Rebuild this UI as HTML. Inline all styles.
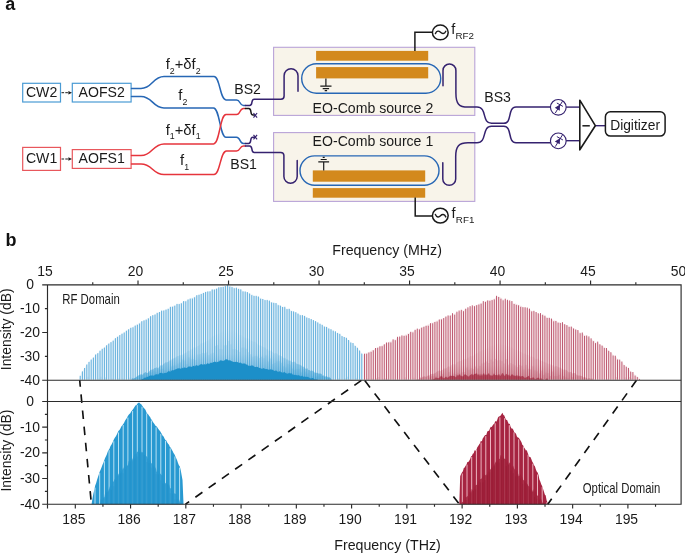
<!DOCTYPE html>
<html lang="en"><head><meta charset="utf-8"><title>Dual EO-comb figure</title>
<style>html,body{margin:0;padding:0;background:#fff}body{width:685px;height:553px;overflow:hidden}svg{display:block}</style>
</head><body>
<svg width="685" height="553" viewBox="0 0 685 553" font-family='"Liberation Sans", sans-serif' fill="#1a1a1a">
<rect width="685" height="553" fill="#fff"/>
<text x="5.3" y="9.6" font-size="18" font-weight="bold" fill="#111">a</text>
<text x="5.6" y="246.4" font-size="18" font-weight="bold" fill="#111">b</text>
<rect x="273.6" y="47.3" width="201.2" height="68.1" fill="#f8f4ea" stroke="#b9a4d8" stroke-width="1.1"/>
<rect x="273.6" y="132.6" width="201.2" height="68.8" fill="#f8f4ea" stroke="#b9a4d8" stroke-width="1.1"/>
<rect x="316.1" y="50.9" width="112.1" height="9.8" fill="#d3891d"/>
<rect x="316.1" y="67.1" width="112.1" height="11.3" fill="#d3891d"/>
<rect x="312.8" y="170.4" width="112.4" height="11.3" fill="#d3891d"/>
<rect x="312.8" y="188.1" width="112.4" height="9.6" fill="#d3891d"/>
<rect x="301.7" y="63.7" width="139" height="29.5" rx="14.75" fill="none" stroke="#2767b5" stroke-width="1.4"/>
<rect x="300" y="155.9" width="139" height="29.3" rx="14.65" fill="none" stroke="#2767b5" stroke-width="1.4"/>
<rect x="22.7" y="83.3" width="37.8" height="18.7" fill="#fff" stroke="#4a9bd4" stroke-width="1.2"/>
<rect x="72.3" y="83.3" width="58.8" height="18.7" fill="#fff" stroke="#4a9bd4" stroke-width="1.2"/>
<rect x="22.7" y="147.4" width="37.8" height="23" fill="#fff" stroke="#e8575c" stroke-width="1.2"/>
<rect x="72.3" y="149.6" width="58.8" height="18.8" fill="#fff" stroke="#e8575c" stroke-width="1.2"/>
<text x="41.6" y="96.5" font-size="14.1" text-anchor="middle">CW2</text>
<text x="101.7" y="96.5" font-size="14.1" text-anchor="middle">AOFS2</text>
<text x="41.6" y="162.9" font-size="14.1" text-anchor="middle">CW1</text>
<text x="101.7" y="162.9" font-size="14.1" text-anchor="middle">AOFS1</text>
<path d="M61.5 92.7H69" stroke="#1a1a1a" stroke-width="1" stroke-dasharray="2.6 1.2" fill="none"/>
<path d="M72 92.7l-3.6 -1.7v3.4z" fill="#1a1a1a"/>
<path d="M61.5 159H69" stroke="#1a1a1a" stroke-width="1" stroke-dasharray="2.6 1.2" fill="none"/>
<path d="M72 159l-3.6 -1.7v3.4z" fill="#1a1a1a"/>
<path d="M131.5 88.4H141 C152.5 88.4 152.5 76.5 164 76.5H214 C220.0 76.5 220.0 100 226 100H236.5 C240.7 100 239.3 105.5 243.5 105.5H245.4" fill="none" stroke="#2767b5" stroke-width="1.5" stroke-linecap="round" stroke-linejoin="round"/>
<path d="M131.5 96.4H141 C152.5 96.4 152.5 107.9 164 107.9H213.5 C219.8 107.9 219.8 137.3 226 137.3H236.5 C240.7 137.3 239.3 143.5 243.5 143.5H245.4" fill="none" stroke="#2767b5" stroke-width="1.5" stroke-linecap="round" stroke-linejoin="round"/>
<path d="M131.5 155.6H141 C152.5 155.6 152.5 144 164 144H213.5 C219.8 144 219.8 114.6 226 114.6H236.5 C240.7 114.6 239.3 108.4 243.5 108.4H245.4" fill="none" stroke="#e6343c" stroke-width="1.5" stroke-linecap="round" stroke-linejoin="round"/>
<path d="M131.5 164H141 C152.5 164 152.5 174.6 164 174.6H214 C220.2 174.6 220.2 151 226.5 151H236.5 C240.7 151 239.3 146 243.5 146H245.4" fill="none" stroke="#e6343c" stroke-width="1.5" stroke-linecap="round" stroke-linejoin="round"/>
<path d="M245.4 105.5H249.6 C253.5 105.5 250.3 99.2 254.2 99.2H281 Q284.1 99.2 284.1 96V75.75A6.95 6.95 0 0 1 298 75.75V91.2" fill="none" stroke="#35226f" stroke-width="1.5" stroke-linecap="round" stroke-linejoin="round"/>
<path d="M245.4 108.4H248.8 C252.4 108.4 249.4 115 253 115H254.6" fill="none" stroke="#1a1a1a" stroke-width="1.5" stroke-linecap="round" stroke-linejoin="round"/>
<path d="M245.4 143.5H248.6 C252.2 143.5 249.2 137.2 252.8 137.2H254.6" fill="none" stroke="#35226f" stroke-width="1.5" stroke-linecap="round" stroke-linejoin="round"/>
<path d="M245.4 146H249.6 C253.5 146 250.3 152.4 254.2 152.4H280.7 Q283.9 152.4 283.9 155.6V176.5A6.65 6.65 0 0 0 297.2 176.5V160.4" fill="none" stroke="#35226f" stroke-width="1.5" stroke-linecap="round" stroke-linejoin="round"/>
<path d="M253.5 113.0l3.6 4.6M253.5 117.6l3.6 -4.6" stroke="#35226f" stroke-width="1.15" fill="none"/>
<path d="M253.5 134.79999999999998l3.6 4.6M253.5 139.4l3.6 -4.6" stroke="#35226f" stroke-width="1.15" fill="none"/>
<path d="M443 85.8V70.45A6.45 6.45 0 0 1 455.9 70.45V93 C455.9 104 459 107.1 468 107.1H477 C487.6 107.1 481.4 123.3 491.5 123.3H503.8 C512.6 123.3 507.2 107.1 516 107.1H550.4" fill="none" stroke="#35226f" stroke-width="1.5" stroke-linecap="round" stroke-linejoin="round"/>
<path d="M442.8 162.8V178.9A6.45 6.45 0 0 0 455.7 178.9V156.5 C455.7 146 459 142.7 468 142.7H477 C487.6 142.7 481.4 126.3 491.5 126.3H503.8 C512.6 126.3 507.2 142.7 516 142.7H550.4" fill="none" stroke="#35226f" stroke-width="1.5" stroke-linecap="round" stroke-linejoin="round"/>
<path d="M325.9 78.4V86.1M320.3 86.1H331.5M322.7 88.6H329.1M324.7 90.7H327.1" stroke="#1a1a1a" stroke-width="1.2" fill="none"/>
<path d="M323.7 170.4V161.9M318.3 161.9H329.1M320.7 159.5H326.7M322.7 157.4H324.7" stroke="#1a1a1a" stroke-width="1.2" fill="none"/>
<path d="M414.9 51V32.2H432.3" stroke="#1a1a1a" stroke-width="1.5" fill="none" stroke-linejoin="miter"/>
<ellipse cx="440.3" cy="32.45" rx="7.9" ry="7.4" fill="#fff" stroke="#1a1a1a" stroke-width="1.5"/>
<path d="M435.4 33.6C436.8 30.4 438.9 30.6 440.5 32.3S444.4 34.3 445.8 31.2" stroke="#1a1a1a" stroke-width="1.4" fill="none" stroke-linecap="round"/>
<path d="M415.2 197.6V216H432.3" stroke="#1a1a1a" stroke-width="1.5" fill="none" stroke-linejoin="miter"/>
<ellipse cx="440.3" cy="215.6" rx="7.9" ry="7.4" fill="#fff" stroke="#1a1a1a" stroke-width="1.5"/>
<path d="M435.4 214.5C436.8 217.7 438.9 217.5 440.5 215.8S444.4 213.8 445.8 216.9" stroke="#1a1a1a" stroke-width="1.4" fill="none" stroke-linecap="round"/>
<text x="451.2" y="34" font-size="14.6">f<tspan font-size="9.8" dy="4.5" dx="0.2">RF2</tspan></text>
<text x="451.6" y="218.2" font-size="14.6">f<tspan font-size="9.8" dy="4.5" dx="0.2">RF1</tspan></text>
<text x="312.6" y="113" font-size="14.1">EO-Comb source 2</text>
<text x="312.6" y="146" font-size="14.1">EO-Comb source 1</text>
<text x="234.3" y="94.2" font-size="14.1">BS2</text>
<text x="230.3" y="168.5" font-size="14.1">BS1</text>
<text x="484.3" y="101.9" font-size="14.1">BS3</text>
<text x="165.7" y="69.2" font-size="14.8">f<tspan font-size="8.8" dy="4.7">2</tspan><tspan dy="-4.7">+δf</tspan><tspan font-size="8.8" dy="4.7">2</tspan></text>
<text x="178.3" y="99.8" font-size="14.8">f<tspan font-size="8.8" dy="4.7">2</tspan></text>
<text x="165.7" y="134.7" font-size="14.8">f<tspan font-size="8.8" dy="4.7">1</tspan><tspan dy="-4.7">+δf</tspan><tspan font-size="8.8" dy="4.7">1</tspan></text>
<text x="180" y="164.8" font-size="14.8">f<tspan font-size="8.8" dy="4.7">1</tspan></text>
<circle cx="558.3" cy="107.3" r="7.85" fill="#fff" stroke="#35226f" stroke-width="1.15"/>
<path d="M555.30 113.00L562.50 101.20M556.85 103.00L562.95 106.40" stroke="#35226f" stroke-width="1" fill="none"/>
<path d="M554.80 107.80L559.80 110.70L560.00 104.60Z" fill="#35226f"/>
<path d="M566.15 107.1H579.8" stroke="#35226f" stroke-width="1.4" fill="none"/>
<circle cx="558.3" cy="140.9" r="7.85" fill="#fff" stroke="#35226f" stroke-width="1.15"/>
<path d="M555.30 146.60L562.50 134.80M556.85 136.60L562.95 140.00" stroke="#35226f" stroke-width="1" fill="none"/>
<path d="M554.80 141.40L559.80 144.30L560.00 138.20Z" fill="#35226f"/>
<path d="M566.15 140.70000000000002H579.8" stroke="#35226f" stroke-width="1.4" fill="none"/>
<path d="M595.4 125.7H605.4" stroke="#35226f" stroke-width="1.4"/>
<path d="M579.8 100.2L595.3 125.7L579.8 149.8Z" fill="#fff" stroke="#1a1a1a" stroke-width="1.6" stroke-linejoin="round"/>
<path d="M582.4 125.8H589.8" stroke="#1a1a1a" stroke-width="1.5"/>
<rect x="605.4" y="111.7" width="59.7" height="24.4" rx="5" fill="#fff" stroke="#1a1a1a" stroke-width="1.5"/>
<text x="635.1" y="129.6" font-size="13.8" text-anchor="middle">Digitizer</text>
<defs><linearGradient id="gb" gradientUnits="userSpaceOnUse" x1="0" y1="328" x2="0" y2="380"><stop offset="0" stop-color="#2f98d2" stop-opacity="0"/><stop offset="0.5" stop-color="#2f98d2" stop-opacity="0.12"/><stop offset="1" stop-color="#2393cd" stop-opacity="0.6"/></linearGradient><linearGradient id="gr" gradientUnits="userSpaceOnUse" x1="0" y1="342" x2="0" y2="380"><stop offset="0" stop-color="#a8283f" stop-opacity="0"/><stop offset="0.6" stop-color="#a8283f" stop-opacity="0.09"/><stop offset="1" stop-color="#9c1f36" stop-opacity="0.3"/></linearGradient></defs>
<g>
<polygon points="79.5,379.7 79.5,378.2 80.6,374.2 81.7,372.1 82.8,370.2 83.9,369.0 85.0,367.3 86.1,365.5 87.2,364.2 88.3,362.4 89.4,361.4 90.5,360.0 91.6,358.8 92.7,357.8 93.8,356.9 94.9,355.5 96.0,354.6 97.1,353.8 98.2,353.0 99.3,351.8 100.4,350.7 101.5,350.1 102.6,348.5 103.7,348.0 104.8,346.7 105.9,345.7 107.0,344.8 108.1,344.0 109.2,343.4 110.3,342.2 111.4,341.5 112.5,340.7 113.6,339.6 114.7,338.8 115.8,337.7 116.9,336.8 118.0,336.2 119.1,335.7 120.2,334.8 121.3,334.0 122.4,333.5 123.5,332.7 124.6,331.8 125.7,331.4 126.8,330.6 127.9,329.6 129.0,329.1 130.1,328.3 131.2,327.8 132.3,327.1 133.4,326.2 134.5,326.0 135.6,324.9 136.7,324.4 137.8,324.0 138.9,323.0 140.0,322.6 141.1,321.7 142.2,321.4 143.3,320.8 144.4,320.1 145.5,319.6 146.6,318.7 147.7,318.3 148.8,317.7 149.9,317.2 151.0,316.5 152.1,316.2 153.2,315.7 154.3,314.9 155.4,314.5 156.5,313.6 157.6,313.4 158.7,312.8 159.8,312.5 160.9,311.8 162.0,311.0 163.1,310.5 164.2,310.2 165.3,309.3 166.4,309.1 167.5,308.4 168.6,307.9 169.7,307.4 170.8,307.3 171.9,306.5 173.0,306.0 174.1,305.6 175.2,305.4 176.3,304.5 177.4,304.2 178.5,303.8 179.6,303.5 180.7,303.0 181.8,302.5 182.9,301.7 184.0,301.3 185.1,300.8 186.2,300.6 187.3,300.2 188.4,299.2 189.5,298.8 190.6,298.3 191.7,297.8 192.8,297.5 193.9,297.1 195.0,296.4 196.1,295.8 197.2,295.5 198.3,295.0 199.4,294.7 200.5,294.4 201.6,293.8 202.7,293.4 203.8,293.1 204.9,292.7 206.0,292.0 207.1,292.1 208.2,291.7 209.3,291.4 210.4,291.0 211.5,290.3 212.6,290.0 213.7,289.4 214.8,289.4 215.9,288.7 217.0,288.4 218.1,288.1 219.2,287.8 220.3,287.5 221.4,287.0 222.5,286.7 223.6,286.4 224.7,286.1 225.8,285.9 226.9,285.5 228.0,285.7 229.1,285.7 230.2,285.8 231.3,286.2 232.4,286.7 233.5,287.1 234.6,287.4 235.7,288.3 236.8,288.8 237.9,288.9 239.0,289.4 240.1,289.6 241.2,290.0 242.3,290.6 243.4,291.0 244.5,291.7 245.6,291.8 246.7,292.1 247.8,293.1 248.9,293.3 250.0,293.5 251.1,294.2 252.2,294.3 253.3,295.1 254.4,295.8 255.5,296.2 256.6,296.5 257.7,296.7 258.8,297.2 259.9,297.5 261.0,298.3 262.1,298.6 263.2,299.2 264.3,299.4 265.4,299.7 266.5,300.5 267.6,301.0 268.7,301.3 269.8,301.7 270.9,302.1 272.0,302.4 273.1,302.5 274.2,303.1 275.3,303.4 276.4,303.6 277.5,304.0 278.6,304.5 279.7,305.0 280.8,305.8 281.9,306.4 283.0,306.6 284.1,307.4 285.2,308.0 286.3,308.4 287.4,308.6 288.5,309.0 289.6,309.5 290.7,310.0 291.8,310.5 292.9,311.2 294.0,311.9 295.1,312.4 296.2,312.6 297.3,313.2 298.4,313.8 299.5,313.9 300.6,314.7 301.7,315.4 302.8,315.8 303.9,316.3 305.0,316.6 306.1,316.9 307.2,317.8 308.3,318.0 309.4,318.9 310.5,319.5 311.6,319.7 312.7,320.3 313.8,321.2 314.9,321.6 316.0,321.8 317.1,322.3 318.2,322.9 319.3,323.9 320.4,324.4 321.5,324.5 322.6,325.5 323.7,326.1 324.8,326.4 325.9,326.8 327.0,327.5 328.1,327.8 329.2,328.4 330.3,329.6 331.4,330.0 332.5,330.5 333.6,331.4 334.7,331.7 335.8,332.5 336.9,333.1 338.0,333.4 339.1,334.0 340.2,334.6 341.3,335.2 342.4,336.0 343.5,336.4 344.6,337.1 345.7,337.6 346.8,338.9 347.9,339.4 349.0,340.4 350.1,341.3 351.2,342.4 352.3,343.0 353.4,344.2 354.5,344.8 355.6,345.8 356.7,347.1 357.8,348.1 358.9,349.6 360.0,350.8 361.1,352.0 362.2,353.8 363.3,354.7 363.4,379.7" fill="#cfe7f4" opacity="0.4"/>
<path d="M80.20 379.7V375.8M82.40 379.7V371.4M84.60 379.7V368.0M86.80 379.7V364.5M89.00 379.7V361.9M91.20 379.7V359.6M93.40 379.7V357.6M95.60 379.7V354.5M97.80 379.7V353.2M100.00 379.7V350.7M102.20 379.7V348.8M104.40 379.7V347.6M106.60 379.7V345.3M108.80 379.7V343.6M111.00 379.7V342.2M113.20 379.7V340.7M115.40 379.7V338.2M117.60 379.7V336.8M119.80 379.7V335.1M122.00 379.7V333.7M124.20 379.7V332.5M126.40 379.7V330.7M128.60 379.7V329.3M130.80 379.7V327.8M133.00 379.7V327.3M135.20 379.7V325.6M137.40 379.7V324.7M139.60 379.7V323.5M141.80 379.7V321.2M144.00 379.7V320.4M146.20 379.7V319.7M148.40 379.7V318.4M150.60 379.7V316.2M152.80 379.7V315.1M155.00 379.7V314.5M157.20 379.7V312.8M159.40 379.7V312.0M161.60 379.7V310.6M163.80 379.7V310.5M166.00 379.7V309.7M168.20 379.7V308.9M170.40 379.7V306.8M172.60 379.7V306.7M174.80 379.7V305.7M177.00 379.7V303.9M179.20 379.7V304.1M181.40 379.7V303.3M183.60 379.7V301.1M185.80 379.7V301.3M188.00 379.7V299.5M190.20 379.7V298.6M192.40 379.7V298.5M194.60 379.7V297.3M196.80 379.7V295.2M199.00 379.7V294.7M201.20 379.7V293.9M203.40 379.7V292.9M205.60 379.7V291.9M207.80 379.7V291.4M210.00 379.7V291.3M212.20 379.7V289.4M214.40 379.7V289.5M216.60 379.7V288.7M218.80 379.7V287.3M221.00 379.7V287.1M223.20 379.7V286.9M225.40 379.7V286.1M227.60 379.7V284.9M229.80 379.7V286.6M232.00 379.7V287.1M234.20 379.7V288.2M236.40 379.7V287.7M238.60 379.7V288.8M240.80 379.7V289.3M243.00 379.7V291.4M245.20 379.7V291.5M247.40 379.7V292.1M249.60 379.7V293.5M251.80 379.7V295.1M254.00 379.7V295.9M256.20 379.7V295.8M258.40 379.7V296.5M260.60 379.7V298.7M262.80 379.7V299.0M265.00 379.7V300.1M267.20 379.7V299.9M269.40 379.7V300.6M271.60 379.7V302.4M273.80 379.7V302.8M276.00 379.7V303.0M278.20 379.7V305.2M280.40 379.7V305.7M282.60 379.7V307.0M284.80 379.7V306.8M287.00 379.7V309.1M289.20 379.7V308.8M291.40 379.7V311.1M293.60 379.7V311.4M295.80 379.7V312.2M298.00 379.7V313.6M300.20 379.7V315.2M302.40 379.7V315.1M304.60 379.7V315.9M306.80 379.7V317.5M309.00 379.7V318.1M311.20 379.7V319.0M313.40 379.7V320.1M315.60 379.7V321.1M317.80 379.7V322.4M320.00 379.7V323.7M322.20 379.7V324.8M324.40 379.7V326.6M326.60 379.7V326.9M328.80 379.7V328.5M331.00 379.7V329.2M333.20 379.7V330.6M335.40 379.7V331.3M337.60 379.7V332.9M339.80 379.7V333.8M342.00 379.7V336.1M344.20 379.7V337.0M346.40 379.7V337.8M348.60 379.7V340.0M350.80 379.7V342.5M353.00 379.7V343.0M355.20 379.7V345.9M357.40 379.7V347.8M359.60 379.7V350.5M361.80 379.7V353.6" stroke="#51a7d8" stroke-width="0.9" fill="none" opacity="1.0"/>
<polygon points="128.0,379.7 128.0,379.7 129.1,379.7 130.2,379.7 131.3,379.7 132.4,378.3 133.5,378.8 134.6,378.1 135.7,377.5 136.8,376.6 137.9,376.1 139.0,375.0 140.1,374.7 141.2,374.1 142.3,374.9 143.4,373.5 144.5,372.8 145.6,372.1 146.7,373.1 147.8,372.7 148.9,371.7 150.0,370.4 151.1,369.8 152.2,369.4 153.3,369.2 154.4,368.1 155.5,368.1 156.6,367.2 157.7,368.1 158.8,367.5 159.9,366.1 161.0,365.0 162.1,365.8 163.2,364.0 164.3,363.5 165.4,362.2 166.5,362.4 167.6,362.0 168.7,361.5 169.8,360.3 170.9,360.4 172.0,358.8 173.1,358.7 174.2,357.8 175.3,357.8 176.4,356.5 177.5,355.9 178.6,355.9 179.7,355.1 180.8,355.2 181.9,354.5 183.0,354.4 184.1,353.6 185.2,353.1 186.3,352.8 187.4,351.2 188.5,350.5 189.6,351.2 190.7,348.9 191.8,349.4 192.9,348.7 194.0,346.8 195.1,347.8 196.2,347.3 197.3,346.1 198.4,345.7 199.5,345.3 200.6,343.3 201.7,343.4 202.8,342.8 203.9,342.8 205.0,342.1 206.1,341.5 207.2,340.4 208.3,340.4 209.4,339.3 210.5,338.7 211.6,337.1 212.7,336.1 213.8,335.7 214.9,335.5 216.0,334.3 217.1,335.1 218.2,333.9 219.3,333.4 220.4,332.8 221.5,332.2 222.6,331.2 223.7,329.6 224.8,330.5 225.9,329.8 227.0,328.6 228.1,328.1 229.2,329.0 230.3,328.4 231.4,330.4 232.5,330.0 233.6,330.2 234.7,331.2 235.8,332.8 236.9,332.3 238.0,334.0 239.1,335.0 240.2,334.7 241.3,335.1 242.4,335.8 243.5,336.9 244.6,337.6 245.7,337.9 246.8,338.6 247.9,338.0 249.0,338.7 250.1,339.5 251.2,341.1 252.3,340.8 253.4,341.9 254.5,341.4 255.6,342.1 256.7,343.1 257.8,344.5 258.9,345.1 260.0,345.6 261.1,345.4 262.2,346.5 263.3,346.9 264.4,347.5 265.5,347.4 266.6,349.5 267.7,348.7 268.8,350.8 269.9,351.3 271.0,350.0 272.1,351.5 273.2,352.8 274.3,353.6 275.4,353.1 276.5,353.3 277.6,353.8 278.7,355.8 279.8,354.9 280.9,356.2 282.0,355.9 283.1,357.2 284.2,358.6 285.3,357.5 286.4,359.4 287.5,359.3 288.6,360.6 289.7,360.8 290.8,360.4 291.9,362.2 293.0,361.9 294.1,361.5 295.2,362.0 296.3,363.5 297.4,364.0 298.5,364.2 299.6,364.4 300.7,365.3 301.8,365.8 302.9,367.3 304.0,366.2 305.1,368.2 306.2,368.9 307.3,367.9 308.4,370.0 309.5,370.1 310.6,371.0 311.7,370.2 312.8,370.9 313.9,371.4 315.0,373.1 316.1,372.7 317.2,372.8 318.3,373.4 319.4,373.5 320.5,373.5 321.6,374.1 322.7,376.0 323.8,375.3 324.9,377.1 326.0,376.1 327.1,376.6 328.2,377.5 329.3,377.3 330.4,378.0 331.5,379.6 332.6,379.7 333.7,379.7 334.8,379.7 335.9,379.7 336.0,379.7" fill="url(#gb)" opacity="1.0"/>
<path d="M87.90 379.7V376.8M98.90 379.7V378.5M101.10 379.7V376.8M105.50 379.7V377.4M112.10 379.7V378.6M118.70 379.7V378.3M123.10 379.7V378.6M129.70 379.7V377.7M131.90 379.7V377.6M134.10 379.7V378.0M140.70 379.7V376.4M147.30 379.7V375.8M149.50 379.7V372.8M151.70 379.7V372.4M153.90 379.7V370.9M156.10 379.7V371.9M158.30 379.7V369.3M160.50 379.7V369.5M162.70 379.7V368.8M164.90 379.7V370.2M167.10 379.7V371.5M169.30 379.7V369.7M171.50 379.7V366.5M173.70 379.7V365.7M175.90 379.7V365.6M178.10 379.7V363.7M180.30 379.7V362.5M182.50 379.7V359.7M184.70 379.7V360.4M186.90 379.7V364.3M189.10 379.7V357.5M191.30 379.7V359.3M193.50 379.7V359.3M195.70 379.7V360.0M197.90 379.7V354.6M200.10 379.7V354.1M202.30 379.7V353.0M204.50 379.7V353.2M206.70 379.7V352.6M208.90 379.7V355.2M211.10 379.7V353.6M213.30 379.7V352.8M215.50 379.7V345.9M217.70 379.7V345.1M219.90 379.7V348.9M222.10 379.7V349.3M224.30 379.7V345.4M226.50 379.7V345.2M228.70 379.7V340.8M230.90 379.7V344.4M233.10 379.7V349.0M235.30 379.7V349.2M237.50 379.7V350.2M239.70 379.7V351.9M241.90 379.7V347.7M244.10 379.7V347.6M246.30 379.7V348.8M248.50 379.7V352.2M250.70 379.7V354.2M252.90 379.7V356.8M255.10 379.7V356.1M257.30 379.7V356.4M259.50 379.7V358.1M261.70 379.7V356.8M263.90 379.7V358.3M266.10 379.7V355.5M268.30 379.7V361.6M270.50 379.7V358.5M272.70 379.7V364.2M274.90 379.7V363.1M277.10 379.7V361.5M279.30 379.7V361.1M281.50 379.7V362.8M283.70 379.7V366.3M285.90 379.7V367.5M288.10 379.7V364.2M290.30 379.7V364.7M292.50 379.7V368.6M294.70 379.7V369.8M296.90 379.7V369.3M299.10 379.7V368.9M301.30 379.7V372.3M303.50 379.7V368.9M305.70 379.7V371.7M307.90 379.7V373.6M310.10 379.7V377.8M312.30 379.7V376.3M314.50 379.7V378.7M316.70 379.7V376.6M318.90 379.7V375.6M321.10 379.7V376.3M327.70 379.7V378.6M329.90 379.7V376.7M338.70 379.7V378.3M345.30 379.7V378.1M347.50 379.7V376.7M349.70 379.7V378.9M356.30 379.7V377.9" stroke="#2f98d0" stroke-width="0.8" fill="none" opacity="0.2"/>
<polygon points="140.0,379.7 140.0,379.6 141.0,379.7 142.0,378.9 143.0,379.1 144.0,377.9 145.0,377.4 146.0,377.7 147.0,376.7 148.0,377.1 149.0,376.3 150.0,375.6 151.0,375.4 152.0,375.4 153.0,375.6 154.0,375.7 155.0,374.4 156.0,374.5 157.0,374.0 158.0,374.8 159.0,373.4 160.0,373.0 161.0,372.8 162.0,373.1 163.0,373.5 164.0,373.3 165.0,372.8 166.0,372.9 167.0,372.6 168.0,371.4 169.0,371.0 170.0,371.8 171.0,371.2 172.0,369.9 173.0,370.6 174.0,369.9 175.0,369.6 176.0,369.3 177.0,368.8 178.0,368.3 179.0,368.4 180.0,368.3 181.0,369.0 182.0,367.6 183.0,368.6 184.0,367.4 185.0,367.4 186.0,367.9 187.0,367.7 188.0,367.0 189.0,366.3 190.0,366.7 191.0,366.4 192.0,367.0 193.0,365.8 194.0,365.9 195.0,366.4 196.0,365.0 197.0,365.4 198.0,365.8 199.0,365.5 200.0,364.4 201.0,364.2 202.0,364.0 203.0,365.1 204.0,364.0 205.0,364.5 206.0,364.5 207.0,363.5 208.0,363.2 209.0,363.9 210.0,363.3 211.0,362.6 212.0,363.0 213.0,362.2 214.0,361.9 215.0,361.4 216.0,362.2 217.0,362.2 218.0,361.6 219.0,361.8 220.0,360.3 221.0,360.4 222.0,360.5 223.0,361.0 224.0,360.7 225.0,359.7 226.0,359.3 227.0,359.5 228.0,359.8 229.0,360.7 230.0,360.0 231.0,361.1 232.0,361.3 233.0,361.7 234.0,361.9 235.0,361.9 236.0,361.8 237.0,362.0 238.0,362.3 239.0,363.1 240.0,362.4 241.0,362.8 242.0,363.8 243.0,363.4 244.0,363.4 245.0,363.6 246.0,364.5 247.0,364.5 248.0,365.6 249.0,365.8 250.0,366.1 251.0,365.4 252.0,365.4 253.0,365.6 254.0,366.5 255.0,367.0 256.0,366.9 257.0,366.8 258.0,367.3 259.0,367.8 260.0,368.1 261.0,368.4 262.0,368.7 263.0,368.6 264.0,368.1 265.0,369.3 266.0,368.7 267.0,369.3 268.0,369.2 269.0,369.9 270.0,369.3 271.0,369.6 272.0,369.8 273.0,369.8 274.0,371.0 275.0,370.8 276.0,370.6 277.0,370.9 278.0,372.0 279.0,371.5 280.0,371.3 281.0,372.3 282.0,372.2 283.0,372.9 284.0,371.8 285.0,372.6 286.0,373.3 287.0,373.5 288.0,373.8 289.0,372.8 290.0,373.4 291.0,373.3 292.0,373.6 293.0,374.9 294.0,374.6 295.0,375.3 296.0,374.7 297.0,375.6 298.0,375.3 299.0,375.2 300.0,376.1 301.0,376.6 302.0,375.6 303.0,376.5 304.0,376.8 305.0,376.4 306.0,376.9 307.0,376.8 308.0,377.1 309.0,377.4 310.0,378.2 311.0,378.5 312.0,378.1 313.0,378.1 314.0,378.8 315.0,379.5 316.0,379.1 317.0,379.5 318.0,379.6 318.0,379.7" fill="#1c8fc9" opacity="1.0"/>
<polygon points="363.4,379.7 363.4,354.9 364.5,354.2 365.6,353.3 366.7,352.8 367.8,352.4 368.9,352.0 370.0,351.5 371.1,350.6 372.2,350.1 373.3,349.9 374.4,349.1 375.5,348.5 376.6,348.0 377.7,347.8 378.8,346.9 379.9,346.5 381.0,345.8 382.1,345.3 383.2,345.0 384.3,344.5 385.4,343.6 386.5,343.0 387.6,342.7 388.7,341.9 389.8,341.2 390.9,341.3 392.0,340.5 393.1,340.3 394.2,339.5 395.3,339.3 396.4,338.6 397.5,337.9 398.6,337.4 399.7,337.2 400.8,336.8 401.9,336.4 403.0,335.5 404.1,335.3 405.2,334.6 406.3,334.2 407.4,333.5 408.5,333.1 409.6,332.8 410.7,332.5 411.8,331.5 412.9,331.3 414.0,331.0 415.1,330.6 416.2,329.6 417.3,329.1 418.4,329.1 419.5,328.6 420.6,327.8 421.7,327.0 422.8,327.1 423.9,326.2 425.0,326.0 426.1,325.4 427.2,325.0 428.3,324.1 429.4,324.0 430.5,323.1 431.6,322.8 432.7,322.5 433.8,322.0 434.9,321.2 436.0,320.8 437.1,320.5 438.2,320.1 439.3,319.6 440.4,319.0 441.5,318.6 442.6,318.5 443.7,318.1 444.8,317.2 445.9,317.1 447.0,316.7 448.1,315.9 449.2,315.9 450.3,315.1 451.4,314.9 452.5,314.4 453.6,314.0 454.7,313.4 455.8,313.0 456.9,312.7 458.0,312.2 459.1,311.9 460.2,311.3 461.3,310.9 462.4,310.2 463.5,310.1 464.6,309.6 465.7,309.0 466.8,308.9 467.9,308.5 469.0,307.8 470.1,307.2 471.2,307.0 472.3,306.3 473.4,305.9 474.5,305.6 475.6,305.0 476.7,304.8 477.8,304.4 478.9,303.6 480.0,303.6 481.1,302.8 482.2,302.8 483.3,302.5 484.4,301.9 485.5,301.3 486.6,301.1 487.7,300.7 488.8,300.6 489.9,299.7 491.0,299.8 492.1,299.5 493.2,298.9 494.3,298.5 495.4,297.5 496.5,297.3 497.6,296.3 498.7,296.3 499.8,297.0 500.9,297.3 502.0,298.5 503.1,299.3 504.2,299.2 505.3,299.8 506.4,300.4 507.5,300.4 508.6,301.3 509.7,301.3 510.8,302.0 511.9,302.0 513.0,302.7 514.1,303.3 515.2,303.3 516.3,303.8 517.4,304.4 518.5,304.8 519.6,305.1 520.7,305.7 521.8,306.1 522.9,307.1 524.0,307.4 525.1,308.0 526.2,308.1 527.3,308.9 528.4,309.0 529.5,309.7 530.6,310.2 531.7,310.5 532.8,311.3 533.9,311.6 535.0,312.1 536.1,312.8 537.2,312.8 538.3,313.8 539.4,314.0 540.5,314.4 541.6,315.1 542.7,315.2 543.8,316.1 544.9,316.4 546.0,316.7 547.1,317.4 548.2,317.7 549.3,318.0 550.4,318.8 551.5,318.8 552.6,319.7 553.7,319.8 554.8,320.5 555.9,321.2 557.0,321.4 558.1,321.9 559.2,322.1 560.3,322.3 561.4,322.8 562.5,323.3 563.6,324.0 564.7,324.4 565.8,324.9 566.9,325.5 568.0,325.5 569.1,326.0 570.2,326.7 571.3,326.8 572.4,327.2 573.5,327.9 574.6,328.4 575.7,329.3 576.8,329.9 577.9,330.8 579.0,331.5 580.1,332.0 581.2,333.0 582.3,333.6 583.4,334.1 584.5,335.3 585.6,335.6 586.7,336.2 587.8,336.9 588.9,337.9 590.0,338.7 591.1,339.3 592.2,339.7 593.3,340.3 594.4,340.8 595.5,341.8 596.6,342.4 597.7,342.9 598.8,343.8 599.9,344.3 601.0,345.2 602.1,345.7 603.2,346.1 604.3,347.3 605.4,347.7 606.5,348.9 607.6,349.8 608.7,350.6 609.8,351.5 610.9,352.8 612.0,353.3 613.1,354.6 614.2,355.7 615.3,356.2 616.4,357.2 617.5,358.4 618.6,359.2 619.7,360.3 620.8,361.4 621.9,362.1 623.0,363.3 624.1,364.4 625.2,365.4 626.3,367.0 627.4,368.0 628.5,369.1 629.6,369.8 630.7,371.4 631.8,372.4 632.9,373.1 634.0,374.1 635.1,374.8 636.2,375.5 637.3,376.3 638.4,377.2 639.5,377.9 640.5,379.7" fill="#f0d3d9" opacity="0.45"/>
<path d="M364.50 379.7V353.7M366.70 379.7V353.7M368.90 379.7V352.5M371.10 379.7V351.8M373.30 379.7V350.3M375.50 379.7V348.0M377.70 379.7V347.7M379.90 379.7V346.3M382.10 379.7V346.2M384.30 379.7V344.3M386.50 379.7V342.5M388.70 379.7V342.4M390.90 379.7V342.4M393.10 379.7V339.3M395.30 379.7V340.2M397.50 379.7V336.8M399.70 379.7V336.5M401.90 379.7V335.4M404.10 379.7V335.9M406.30 379.7V335.5M408.50 379.7V334.0M410.70 379.7V331.8M412.90 379.7V332.4M415.10 379.7V329.8M417.30 379.7V328.6M419.50 379.7V329.4M421.70 379.7V327.7M423.90 379.7V326.8M426.10 379.7V325.8M428.30 379.7V325.7M430.50 379.7V323.2M432.70 379.7V323.3M434.90 379.7V322.0M437.10 379.7V321.5M439.30 379.7V319.5M441.50 379.7V319.4M443.70 379.7V318.1M445.90 379.7V316.5M448.10 379.7V315.4M450.30 379.7V315.6M452.50 379.7V313.2M454.70 379.7V314.7M456.90 379.7V311.7M459.10 379.7V310.5M461.30 379.7V309.8M463.50 379.7V311.2M465.70 379.7V308.7M467.90 379.7V307.3M470.10 379.7V306.1M472.30 379.7V305.3M474.50 379.7V306.2M476.70 379.7V305.2M478.90 379.7V304.5M481.10 379.7V303.7M483.30 379.7V301.1M485.50 379.7V301.8M487.70 379.7V300.4M489.90 379.7V300.8M492.10 379.7V300.1M494.30 379.7V299.4M496.50 379.7V295.8M498.70 379.7V297.0M500.90 379.7V298.7M503.10 379.7V300.3M505.30 379.7V298.7M507.50 379.7V299.8M509.70 379.7V300.4M511.90 379.7V301.0M514.10 379.7V304.0M516.30 379.7V304.8M518.50 379.7V305.3M520.70 379.7V306.8M522.90 379.7V307.2M525.10 379.7V307.2M527.30 379.7V307.6M529.50 379.7V308.6M531.70 379.7V311.4M533.90 379.7V310.8M536.10 379.7V312.0M538.30 379.7V313.3M540.50 379.7V313.1M542.70 379.7V314.7M544.90 379.7V315.7M547.10 379.7V317.9M549.30 379.7V317.8M551.50 379.7V318.6M553.70 379.7V321.3M555.90 379.7V320.9M558.10 379.7V322.7M560.30 379.7V323.0M562.50 379.7V322.2M564.70 379.7V324.2M566.90 379.7V325.1M569.10 379.7V326.9M571.30 379.7V326.6M573.50 379.7V328.5M575.70 379.7V329.5M577.90 379.7V330.0M580.10 379.7V333.2M582.30 379.7V332.5M584.50 379.7V335.9M586.70 379.7V335.5M588.90 379.7V336.4M591.10 379.7V338.3M593.30 379.7V341.2M595.50 379.7V343.1M597.70 379.7V341.6M599.90 379.7V344.3M602.10 379.7V345.6M604.30 379.7V347.9M606.50 379.7V348.0M608.70 379.7V350.8M610.90 379.7V352.2M613.10 379.7V355.5M615.30 379.7V355.7M617.50 379.7V359.5M619.70 379.7V359.6M621.90 379.7V361.5M624.10 379.7V365.1M626.30 379.7V366.7M628.50 379.7V367.9M630.70 379.7V371.6M632.90 379.7V372.0M635.10 379.7V375.6M637.30 379.7V377.1M639.50 379.7V379.0" stroke="#b5425c" stroke-width="0.85" fill="none" opacity="1.0"/>
<polygon points="415.0,379.7 415.0,379.7 416.1,379.5 417.2,379.2 418.3,378.9 419.4,379.5 420.5,377.5 421.6,378.7 422.7,376.6 423.8,376.6 424.9,376.3 426.0,377.1 427.1,375.9 428.2,375.2 429.3,375.8 430.4,374.1 431.5,374.1 432.6,373.8 433.7,373.8 434.8,373.3 435.9,372.6 437.0,371.6 438.1,371.0 439.2,370.2 440.3,371.1 441.4,370.3 442.5,370.0 443.6,368.3 444.7,368.4 445.8,368.6 446.9,367.7 448.0,366.3 449.1,366.4 450.2,366.8 451.3,365.0 452.4,364.4 453.5,364.1 454.6,364.4 455.7,364.2 456.8,362.3 457.9,361.8 459.0,361.4 460.1,361.1 461.2,360.9 462.3,359.7 463.4,359.5 464.5,358.7 465.6,359.7 466.7,358.7 467.8,356.9 468.9,358.1 470.0,355.9 471.1,355.9 472.2,356.5 473.3,355.6 474.4,355.0 475.5,353.8 476.6,352.8 477.7,353.1 478.8,351.5 479.9,351.2 481.0,351.0 482.1,349.7 483.2,349.9 484.3,350.1 485.4,349.4 486.5,348.4 487.6,348.1 488.7,347.2 489.8,346.0 490.9,346.4 492.0,345.4 493.1,345.5 494.2,345.3 495.3,343.8 496.4,343.5 497.5,343.3 498.6,342.1 499.7,341.8 500.8,343.3 501.9,344.1 503.0,344.4 504.1,344.7 505.2,345.5 506.3,345.7 507.4,346.1 508.5,346.2 509.6,346.4 510.7,347.5 511.8,347.0 512.9,348.1 514.0,349.3 515.1,349.7 516.2,350.0 517.3,349.7 518.4,350.5 519.5,351.1 520.6,351.9 521.7,352.0 522.8,353.0 523.9,354.0 525.0,352.9 526.1,354.4 527.2,355.1 528.3,354.8 529.4,355.5 530.5,356.9 531.6,355.5 532.7,357.0 533.8,356.7 534.9,358.4 536.0,359.2 537.1,358.8 538.2,358.4 539.3,359.8 540.4,360.2 541.5,361.0 542.6,361.1 543.7,361.8 544.8,362.6 545.9,362.5 547.0,362.7 548.1,364.2 549.2,363.2 550.3,364.6 551.4,364.5 552.5,365.6 553.6,364.8 554.7,367.0 555.8,366.1 556.9,366.0 558.0,366.9 559.1,367.5 560.2,367.2 561.3,368.4 562.4,368.9 563.5,369.8 564.6,369.6 565.7,369.8 566.8,370.2 567.9,371.6 569.0,372.4 570.1,372.0 571.2,371.8 572.3,373.4 573.4,372.9 574.5,373.0 575.6,373.2 576.7,374.9 577.8,375.4 578.9,375.4 580.0,375.4 581.1,376.0 582.2,375.7 583.3,377.6 584.4,376.7 585.5,377.6 586.6,378.3 587.7,378.7 588.8,378.3 589.9,378.3 591.0,379.1 592.1,378.6 593.2,379.7 594.3,379.6 595.0,379.7" fill="url(#gr)" opacity="1.0"/>
<path d="M367.80 379.7V378.6M372.20 379.7V378.5M376.60 379.7V378.1M378.80 379.7V377.0M383.20 379.7V378.7M385.40 379.7V378.5M387.60 379.7V378.8M405.20 379.7V377.3M414.00 379.7V377.8M420.60 379.7V377.1M422.80 379.7V377.1M429.40 379.7V377.6M431.60 379.7V376.2M433.80 379.7V375.9M436.00 379.7V375.9M438.20 379.7V378.7M440.40 379.7V375.5M442.60 379.7V373.8M444.80 379.7V377.7M447.00 379.7V376.5M449.20 379.7V372.2M451.40 379.7V375.9M453.60 379.7V373.6M455.80 379.7V374.1M458.00 379.7V372.8M460.20 379.7V373.5M462.40 379.7V372.3M464.60 379.7V372.0M466.80 379.7V367.5M469.00 379.7V369.9M471.20 379.7V368.3M473.40 379.7V368.9M475.60 379.7V366.5M477.80 379.7V368.5M480.00 379.7V365.9M482.20 379.7V363.5M484.40 379.7V362.7M486.60 379.7V361.5M488.80 379.7V363.0M491.00 379.7V359.7M493.20 379.7V361.5M495.40 379.7V358.9M497.60 379.7V360.4M499.80 379.7V360.2M502.00 379.7V361.1M504.20 379.7V363.6M506.40 379.7V359.1M508.60 379.7V364.7M510.80 379.7V363.1M513.00 379.7V364.2M515.20 379.7V365.5M517.40 379.7V367.1M519.60 379.7V364.9M521.80 379.7V365.8M524.00 379.7V369.6M526.20 379.7V364.9M528.40 379.7V368.8M530.60 379.7V369.4M532.80 379.7V366.3M535.00 379.7V370.4M537.20 379.7V371.4M539.40 379.7V373.5M541.60 379.7V370.5M543.80 379.7V374.9M546.00 379.7V372.7M548.20 379.7V373.1M550.40 379.7V376.1M552.60 379.7V371.5M554.80 379.7V376.1M557.00 379.7V376.1M559.20 379.7V374.9M561.40 379.7V378.6M563.60 379.7V376.1M565.80 379.7V377.3M568.00 379.7V378.1M572.40 379.7V377.2M583.40 379.7V378.8M592.20 379.7V378.6M607.60 379.7V378.8M616.40 379.7V377.2M625.20 379.7V377.3M627.40 379.7V378.8M629.60 379.7V377.0M631.80 379.7V378.1" stroke="#a3283f" stroke-width="0.8" fill="none" opacity="0.18"/>
<polygon points="428.0,379.7 428.0,379.7 429.0,379.7 430.0,379.7 431.0,379.6 432.0,379.4 433.0,379.3 434.0,378.8 435.0,378.8 436.0,377.1 437.0,378.4 438.0,377.7 439.0,378.5 440.0,376.4 441.0,376.5 442.0,376.0 443.0,378.1 444.0,378.4 445.0,377.5 446.0,376.5 447.0,377.8 448.0,377.6 449.0,376.8 450.0,375.8 451.0,375.8 452.0,376.1 453.0,375.7 454.0,376.0 455.0,376.6 456.0,377.4 457.0,374.6 458.0,376.1 459.0,374.4 460.0,374.6 461.0,376.6 462.0,375.8 463.0,376.8 464.0,375.3 465.0,373.9 466.0,375.0 467.0,375.5 468.0,376.5 469.0,376.5 470.0,374.9 471.0,374.7 472.0,373.8 473.0,375.4 474.0,374.1 475.0,373.9 476.0,373.4 477.0,373.4 478.0,375.4 479.0,373.7 480.0,376.2 481.0,373.6 482.0,375.9 483.0,373.7 484.0,373.3 485.0,375.4 486.0,374.0 487.0,375.4 488.0,373.8 489.0,373.3 490.0,375.5 491.0,375.3 492.0,375.7 493.0,375.3 494.0,373.3 495.0,375.0 496.0,375.2 497.0,374.4 498.0,375.8 499.0,373.8 500.0,376.0 501.0,375.3 502.0,373.2 503.0,373.3 504.0,375.3 505.0,375.9 506.0,373.7 507.0,374.5 508.0,375.8 509.0,374.2 510.0,376.4 511.0,375.3 512.0,374.1 513.0,375.1 514.0,375.8 515.0,375.5 516.0,376.2 517.0,374.7 518.0,376.7 519.0,375.5 520.0,376.4 521.0,376.5 522.0,376.0 523.0,376.0 524.0,377.3 525.0,377.9 526.0,377.5 527.0,377.0 528.0,376.3 529.0,375.7 530.0,378.6 531.0,377.9 532.0,378.4 533.0,377.0 534.0,377.9 535.0,379.2 536.0,378.8 537.0,378.3 538.0,377.5 539.0,378.0 540.0,379.5 541.0,378.1 542.0,379.3 543.0,379.2 544.0,379.7 545.0,379.7 546.0,378.9 547.0,378.3 548.0,379.3 548.0,379.7" fill="#9c1f36" opacity="0.65"/>
</g>
<polygon points="91.6,504.2 91.6,504.1 92.5,498.4 93.4,493.6 94.3,489.9 95.2,485.4 96.1,483.2 97.0,480.1 97.9,477.2 98.8,474.4 99.7,471.7 100.6,469.8 101.5,467.4 102.4,465.1 103.3,463.1 104.2,460.4 105.1,457.9 106.0,456.2 106.9,454.3 107.8,451.5 108.7,450.0 109.6,448.4 110.5,446.0 111.4,444.7 112.3,443.0 113.2,441.1 114.1,439.1 115.0,437.5 115.9,436.3 116.8,434.6 117.7,432.6 118.6,430.7 119.5,430.0 120.4,428.5 121.3,426.5 122.2,425.5 123.1,424.3 124.0,422.9 124.9,421.1 125.8,419.6 126.7,418.3 127.6,416.4 128.5,415.1 129.4,413.9 130.3,413.2 131.2,411.6 132.1,410.6 133.0,409.2 133.9,408.1 134.8,406.5 135.7,405.2 136.6,404.9 137.5,403.6 138.4,402.7 139.3,402.5 140.2,403.7 141.1,404.1 142.0,405.6 142.9,406.4 143.8,407.9 144.7,408.8 145.6,410.1 146.5,412.4 147.4,413.7 148.3,414.6 149.2,416.1 150.1,417.1 151.0,419.0 151.9,420.0 152.8,421.8 153.7,423.0 154.6,424.3 155.5,425.7 156.4,426.2 157.3,427.3 158.2,428.7 159.1,430.0 160.0,431.1 160.9,432.4 161.8,434.1 162.7,435.7 163.6,436.6 164.5,438.5 165.4,439.9 166.3,440.5 167.2,442.4 168.1,443.7 169.0,444.8 169.9,447.1 170.8,447.8 171.7,449.6 172.6,451.1 173.5,452.9 174.4,454.3 175.3,456.2 176.2,458.3 177.1,460.2 178.0,463.1 178.9,465.2 179.8,466.6 180.7,470.0 181.6,475.1 182.5,480.1 183.4,501.0 183.5,504.2" fill="#2899d1" opacity="1.0"/>
<path d="M95.00 504.2V487.7M99.70 504.2V473.1M104.40 504.2V461.2M109.10 504.2V450.2M113.80 504.2V441.2M118.50 504.2V432.5M123.20 504.2V425.0M127.90 504.2V417.5M132.60 504.2V411.0M137.30 504.2V405.1M142.00 504.2V406.7M146.70 504.2V413.4M151.40 504.2V420.5M156.10 504.2V427.3M160.80 504.2V433.9M165.50 504.2V440.8M170.20 504.2V448.3M174.90 504.2V456.5M179.60 504.2V467.6" stroke="#bfe5f6" stroke-width="1.0" fill="none" opacity="0.95"/>
<polygon points="99.0,504.2 99.0,504.2 99.9,503.9 100.8,498.9 101.7,500.6 102.6,498.9 103.5,497.2 104.4,497.3 105.3,491.9 106.2,491.0 107.1,492.4 108.0,491.9 108.9,489.4 109.8,486.5 110.7,486.5 111.6,486.0 112.5,481.9 113.4,481.7 114.3,480.1 115.2,478.3 116.1,478.7 117.0,476.1 117.9,475.2 118.8,473.6 119.7,474.8 120.6,470.7 121.5,472.6 122.4,469.2 123.3,467.3 124.2,470.1 125.1,465.8 126.0,467.8 126.9,466.3 127.8,465.3 128.7,460.9 129.6,461.1 130.5,458.4 131.4,460.9 132.3,459.4 133.2,457.4 134.1,455.5 135.0,453.8 135.9,454.9 136.8,452.2 137.7,451.8 138.6,448.5 139.5,447.8 140.4,448.1 141.3,452.1 142.2,452.5 143.1,451.8 144.0,456.0 144.9,454.5 145.8,456.2 146.7,456.2 147.6,457.8 148.5,461.4 149.4,460.3 150.3,460.7 151.2,463.2 152.1,463.5 153.0,467.2 153.9,464.9 154.8,469.8 155.7,466.9 156.6,471.7 157.5,471.9 158.4,471.0 159.3,473.3 160.2,473.6 161.1,474.6 162.0,475.6 162.9,477.4 163.8,481.4 164.7,482.6 165.6,483.5 166.5,481.0 167.4,483.0 168.3,486.9 169.2,484.5 170.1,488.6 171.0,488.0 171.9,492.2 172.8,489.2 173.7,494.0 174.6,493.2 175.5,493.7 176.4,494.4 177.3,499.4 178.2,499.4 179.1,499.4 180.0,502.0 180.9,504.2 181.0,504.2" fill="#2696cf" opacity="0.8"/>
<path d="M102.00 504.2V500.2M104.35 504.2V498.7M106.70 504.2V492.6M109.05 504.2V489.5M111.40 504.2V489.8M113.75 504.2V486.2M116.10 504.2V480.0M118.45 504.2V476.1M120.80 504.2V473.1M123.15 504.2V473.2M125.50 504.2V469.5M127.85 504.2V465.2M130.20 504.2V461.8M132.55 504.2V461.3M134.90 504.2V458.9M137.25 504.2V456.6M139.60 504.2V452.6M141.95 504.2V453.2M144.30 504.2V455.2M146.65 504.2V462.0M149.00 504.2V463.0M151.35 504.2V467.7M153.70 504.2V466.7M156.05 504.2V474.1M158.40 504.2V474.3M160.75 504.2V480.3M163.10 504.2V483.5M165.45 504.2V484.3M167.80 504.2V484.6M170.15 504.2V493.2M172.50 504.2V493.8M174.85 504.2V499.5M177.20 504.2V499.4M179.55 504.2V502.6" stroke="#1a86c0" stroke-width="0.5" fill="none" opacity="0.5"/>
<polygon points="459.3,504.2 459.3,504.2 460.2,476.3 461.1,473.9 462.0,472.6 462.9,471.3 463.8,468.1 464.7,467.5 465.6,465.7 466.5,464.4 467.4,462.0 468.3,461.9 469.2,460.7 470.1,459.3 471.0,456.5 471.9,456.0 472.8,453.7 473.7,453.2 474.6,450.2 475.5,450.8 476.4,449.7 477.3,447.2 478.2,445.9 479.1,444.6 480.0,443.3 480.9,440.7 481.8,441.6 482.7,438.6 483.6,437.2 484.5,435.8 485.4,434.9 486.3,435.0 487.2,431.8 488.1,430.7 489.0,430.9 489.9,428.4 490.8,426.7 491.7,426.9 492.6,425.6 493.5,424.3 494.4,423.6 495.3,421.0 496.2,421.7 497.1,420.2 498.0,417.4 498.9,416.4 499.8,416.3 500.7,415.4 501.6,413.9 502.5,412.8 503.4,414.9 504.3,415.6 505.2,418.1 506.1,420.1 507.0,419.8 507.9,422.1 508.8,423.9 509.7,423.8 510.6,426.8 511.5,428.4 512.4,428.4 513.3,429.8 514.2,432.2 515.1,432.8 516.0,433.8 516.9,436.5 517.8,437.4 518.7,437.7 519.6,438.9 520.5,440.4 521.4,442.0 522.3,444.7 523.2,445.6 524.1,447.5 525.0,448.8 525.9,450.5 526.8,450.2 527.7,452.9 528.6,455.5 529.5,457.0 530.4,457.0 531.3,459.0 532.2,461.4 533.1,462.9 534.0,465.3 534.9,466.3 535.8,469.2 536.7,471.5 537.6,472.4 538.5,475.0 539.4,479.4 540.3,481.4 541.2,484.2 542.1,485.9 543.0,488.7 543.9,491.4 544.8,494.5 545.7,495.6 546.6,500.3 547.5,502.6 547.8,504.2" fill="#a62441" opacity="1.0"/>
<path d="M462.30 504.2V473.5M467.00 504.2V464.7M471.70 504.2V457.0M476.40 504.2V449.8M481.10 504.2V442.7M485.80 504.2V436.1M490.50 504.2V429.5M495.20 504.2V423.3M499.90 504.2V417.4M504.60 504.2V418.2M509.30 504.2V425.2M514.00 504.2V432.3M518.70 504.2V439.3M523.40 504.2V446.5M528.10 504.2V454.7M532.80 504.2V463.7M537.50 504.2V474.5M542.20 504.2V487.1M546.90 504.2V502.2" stroke="#efbcc6" stroke-width="1.0" fill="none" opacity="0.95"/>
<polygon points="461.0,504.2 461.0,504.2 461.9,501.8 462.8,501.9 463.7,502.7 464.6,500.0 465.5,497.0 466.4,497.3 467.3,495.7 468.2,497.2 469.1,492.8 470.0,491.8 470.9,492.4 471.8,488.7 472.7,490.0 473.6,490.8 474.5,487.5 475.4,485.2 476.3,485.1 477.2,484.4 478.1,481.4 479.0,480.3 479.9,479.3 480.8,479.0 481.7,478.6 482.6,476.9 483.5,475.7 484.4,473.8 485.3,475.1 486.2,475.5 487.1,473.4 488.0,472.1 488.9,471.5 489.8,468.2 490.7,469.8 491.6,467.5 492.5,466.9 493.4,466.2 494.3,464.5 495.2,462.7 496.1,461.3 497.0,460.2 497.9,460.7 498.8,459.0 499.7,459.0 500.6,455.1 501.5,455.8 502.4,458.2 503.3,456.1 504.2,458.6 505.1,459.3 506.0,459.2 506.9,463.7 507.8,461.2 508.7,464.5 509.6,462.4 510.5,462.9 511.4,467.9 512.3,466.7 513.2,465.8 514.1,468.4 515.0,469.7 515.9,472.1 516.8,470.0 517.7,471.5 518.6,476.2 519.5,476.1 520.4,474.1 521.3,476.0 522.2,477.1 523.1,479.7 524.0,480.4 524.9,482.5 525.8,483.4 526.7,482.9 527.6,485.0 528.5,486.0 529.4,487.1 530.3,486.7 531.2,489.3 532.1,489.9 533.0,491.9 533.9,489.0 534.8,493.8 535.7,490.5 536.6,495.3 537.5,495.5 538.4,496.1 539.3,499.4 540.2,498.6 541.1,498.9 542.0,501.8 542.9,503.3 543.8,503.1 544.7,503.2 545.0,504.2" fill="#a01f3a" opacity="0.8"/>
<path d="M464.00 504.2V502.9M466.35 504.2V500.0M468.70 504.2V498.7M471.05 504.2V493.3M473.40 504.2V491.1M475.75 504.2V489.3M478.10 504.2V485.5M480.45 504.2V482.4M482.80 504.2V482.5M485.15 504.2V480.1M487.50 504.2V475.4M489.85 504.2V472.3M492.20 504.2V468.1M494.55 504.2V466.2M496.90 504.2V462.6M499.25 504.2V462.5M501.60 504.2V459.9M503.95 504.2V458.6M506.30 504.2V466.1M508.65 504.2V465.1M511.00 504.2V470.7M513.35 504.2V473.2M515.70 504.2V476.5M518.05 504.2V474.5M520.40 504.2V478.4M522.75 504.2V483.9M525.10 504.2V481.1M527.45 504.2V483.9M529.80 504.2V489.6M532.15 504.2V491.9M534.50 504.2V497.1M536.85 504.2V498.9M539.20 504.2V500.2" stroke="#86162a" stroke-width="0.5" fill="none" opacity="0.55"/>
<path d="M79.7 380.2L91.4 504.2" stroke="#111" stroke-width="1.65" stroke-dasharray="8.6 7.6" stroke-dashoffset="2.0" fill="none"/>
<path d="M361.4 380.4L185.5 504.2" stroke="#111" stroke-width="1.65" stroke-dasharray="8.6 7.6" stroke-dashoffset="0" fill="none"/>
<path d="M364.8 380.6L459.4 504.2" stroke="#111" stroke-width="1.65" stroke-dasharray="8.6 7.6" stroke-dashoffset="0" fill="none"/>
<path d="M636.5 380.2L547.8 504.2" stroke="#111" stroke-width="1.65" stroke-dasharray="8.6 7.6" stroke-dashoffset="0" fill="none"/>
<path d="M42.2 284.8H681.1V504.2H42.2M47.5 504.2V284.8" stroke="#2b2b2b" stroke-width="1.15" fill="none" stroke-linejoin="miter"/>
<path d="M42.2 380.2H681.1M42.2 401.5H681.1" stroke="#2b2b2b" stroke-width="1.15" fill="none"/>
<path d="M92.76 284.8v-2.6M138.01 284.8v-4.4M183.27 284.8v-2.6M228.53 284.8v-4.4M273.79 284.8v-2.6M319.04 284.8v-4.4M364.30 284.8v-2.6M409.56 284.8v-4.4M454.81 284.8v-2.6M500.07 284.8v-4.4M545.33 284.8v-2.6M590.59 284.8v-4.4M635.84 284.8v-2.6M47.5 308.65h-2.6M47.5 332.50h-5.3M47.5 356.35h-2.6M47.5 414.34h-2.6M47.5 427.18h-5.3M47.5 440.01h-2.6M47.5 452.85h-5.3M47.5 465.69h-2.6M47.5 478.52h-5.3M47.5 491.36h-2.6M47.50 504.2v4.2M75.30 504.2v4.2M102.93 504.2v2.6M130.56 504.2v4.2M158.19 504.2v2.6M185.82 504.2v4.2M213.45 504.2v2.6M241.08 504.2v4.2M268.71 504.2v2.6M296.34 504.2v4.2M323.97 504.2v2.6M351.60 504.2v4.2M379.23 504.2v2.6M406.86 504.2v4.2M434.49 504.2v2.6M462.12 504.2v4.2M489.75 504.2v2.6M517.38 504.2v4.2M545.01 504.2v2.6M572.64 504.2v4.2M600.27 504.2v2.6M627.90 504.2v4.2M655.53 504.2v2.6" stroke="#2b2b2b" stroke-width="1.15" fill="none"/>
<text x="44.9" y="275.8" font-size="13.9" text-anchor="middle">15</text>
<text x="135.4" y="275.8" font-size="13.9" text-anchor="middle">20</text>
<text x="225.9" y="275.8" font-size="13.9" text-anchor="middle">25</text>
<text x="316.4" y="275.8" font-size="13.9" text-anchor="middle">30</text>
<text x="407.0" y="275.8" font-size="13.9" text-anchor="middle">35</text>
<text x="497.5" y="275.8" font-size="13.9" text-anchor="middle">40</text>
<text x="588.0" y="275.8" font-size="13.9" text-anchor="middle">45</text>
<text x="678.5" y="275.8" font-size="13.9" text-anchor="middle">50</text>
<text x="73.9" y="523.8" font-size="13.9" text-anchor="middle">185</text>
<text x="129.2" y="523.8" font-size="13.9" text-anchor="middle">186</text>
<text x="184.4" y="523.8" font-size="13.9" text-anchor="middle">187</text>
<text x="239.7" y="523.8" font-size="13.9" text-anchor="middle">188</text>
<text x="294.9" y="523.8" font-size="13.9" text-anchor="middle">189</text>
<text x="350.2" y="523.8" font-size="13.9" text-anchor="middle">190</text>
<text x="405.5" y="523.8" font-size="13.9" text-anchor="middle">191</text>
<text x="460.7" y="523.8" font-size="13.9" text-anchor="middle">192</text>
<text x="516.0" y="523.8" font-size="13.9" text-anchor="middle">193</text>
<text x="571.2" y="523.8" font-size="13.9" text-anchor="middle">194</text>
<text x="626.5" y="523.8" font-size="13.9" text-anchor="middle">195</text>
<text x="30.0" y="289.2" font-size="13.9" text-anchor="middle">0</text>
<text x="30.0" y="313.0" font-size="13.9" text-anchor="middle">-10</text>
<text x="30.0" y="336.9" font-size="13.9" text-anchor="middle">-20</text>
<text x="30.0" y="360.8" font-size="13.9" text-anchor="middle">-30</text>
<text x="30.0" y="384.6" font-size="13.9" text-anchor="middle">-40</text>
<text x="30.0" y="406.0" font-size="13.9" text-anchor="middle">0</text>
<text x="30.0" y="431.7" font-size="13.9" text-anchor="middle">-10</text>
<text x="30.0" y="457.4" font-size="13.9" text-anchor="middle">-20</text>
<text x="30.0" y="483.0" font-size="13.9" text-anchor="middle">-30</text>
<text x="30.0" y="508.7" font-size="13.9" text-anchor="middle">-40</text>
<text x="387.1" y="254.8" font-size="14.2" text-anchor="middle">Frequency (MHz)</text>
<text x="387.5" y="549.5" font-size="14.2" text-anchor="middle">Frequency (THz)</text>
<text transform="translate(10.6 329.3) rotate(-90)" font-size="13.9" text-anchor="middle">Intensity (dB)</text>
<text transform="translate(10.6 450.6) rotate(-90)" font-size="13.9" text-anchor="middle">Intensity (dB)</text>
<text x="62.3" y="304.4" font-size="14.2" textLength="57.5" lengthAdjust="spacingAndGlyphs">RF Domain</text>
<text x="582.8" y="493.4" font-size="14.2" textLength="77.5" lengthAdjust="spacingAndGlyphs">Optical Domain</text>
</svg>
</body></html>
